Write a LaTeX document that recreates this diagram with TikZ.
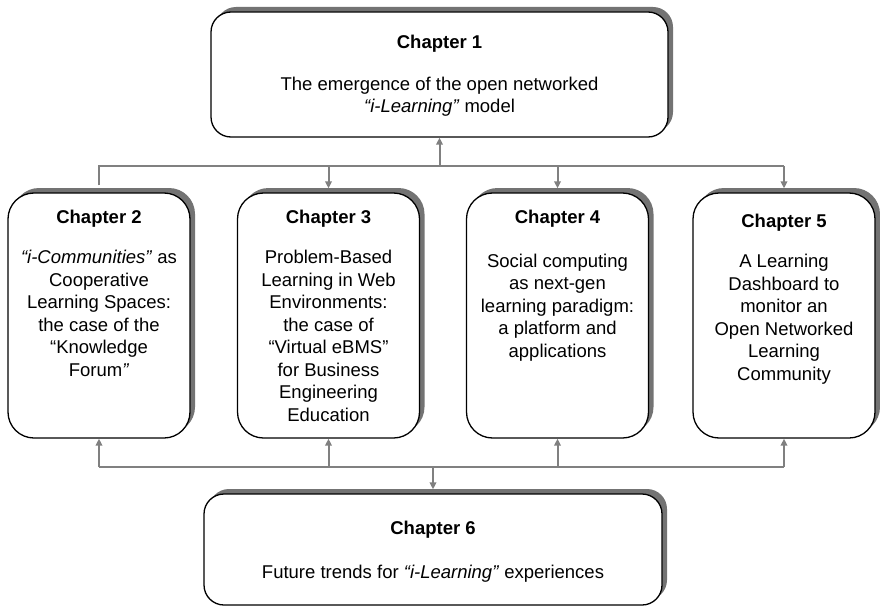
\documentclass[tikz,border=0pt]{standalone}
\usepackage{fontspec}
\setmainfont{Liberation Sans}
\usetikzlibrary{shadows}
\usetikzlibrary{arrows.meta}
\usetikzlibrary{positioning}

\begin{document}
\begin{tikzpicture}[x=1pt, y=-1pt,
    chapbox/.style={draw=black, line width=1.3pt, fill=white, rounded corners=20pt,
        drop shadow={shadow xshift=5pt, shadow yshift=5pt, fill=black!55, opacity=1}},
    tallbox/.style={chapbox, minimum width=182pt, minimum height=245pt, rounded corners=26pt},
    widebox/.style={chapbox, minimum width=457pt, minimum height=125pt},
    chaptext/.style={inner sep=0pt, align=center, font=\fontsize{18.5}{22.5}\selectfont},
    bus/.style={draw=black!50, line width=2pt},
    busarrow/.style={bus, -{Triangle[length=7pt, width=6.5pt]}}]
    \useasboundingbox (0,0) rectangle (880,607);

    \coordinate (bustop) at (0,166);
    \coordinate (busbot) at (0,467);

    % Chapter boxes
    \node[widebox] (ch1) at (439.5,74.5) {};
    \node[tallbox] (ch2) at (99,315.5) {};
    \node[tallbox] (ch3) at (328.5,315.5) {};
    \node[tallbox] (ch4) at (557.5,315.5) {};
    \node[tallbox] (ch5) at (784,315.5) {};
    \node[widebox, minimum width=458pt, minimum height=111pt] (ch6) at (433,549.5) {};

    % Texts
    \node[chaptext, below=24pt of ch1.north] (t1) {\textbf{Chapter 1}\\[19pt]
        The emergence of the open networked\\ \textit{“i-Learning”} model};
    \node[chaptext, below=18pt of ch2.north] (t2) {\textbf{Chapter 2}\\[17.5pt]
        \textit{“i-Communities”} as\\ Cooperative\\ Learning Spaces:\\ the case of the\\
        “Knowledge\\ Forum\textit{”}};
    \node[chaptext, below=18pt of ch3.north] (t3) {\textbf{Chapter 3}\\[17.5pt]
        Problem-Based\\ Learning in Web\\ Environments:\\ the case of\\ “Virtual eBMS”\\
        for Business\\ Engineering\\ Education};
    \node[chaptext, below=17.5pt of ch4.north] (t4) {\textbf{Chapter 4}\\[21.5pt]
        Social computing\\ as next-gen\\ learning paradigm:\\ a platform and\\ applications};
    \node[chaptext, below=22pt of ch5.north] (t5) {\textbf{Chapter 5}\\[17.5pt]
        A Learning\\ Dashboard to\\ monitor an\\ Open Networked\\ Learning\\ Community};
    \node[chaptext, below=27.5pt of ch6.north] (t6) {\textbf{Chapter 6}\\[21.5pt]
        Future trends for \textit{“i-Learning”} experiences};

    % Upper bus
    \draw[bus, shorten <=7pt] (ch2.north) -- (ch2.north |- bustop) -- (ch5.north |- bustop);
    \foreach \c in {ch3, ch4, ch5} {
        \draw[busarrow, shorten >=4pt] (\c.north |- bustop) -- (\c.north);
    }
    \draw[busarrow] (ch1.south |- bustop) -- (ch1.south);

    % Lower bus
    \draw[bus] (ch2.south |- busbot) -- (ch5.south |- busbot);
    \foreach \c in {ch2, ch3, ch4, ch5} {
        \draw[busarrow] (\c.south |- busbot) -- (\c.south);
    }
    \draw[busarrow, shorten >=4pt] (ch6.north |- busbot) -- (ch6.north);
\end{tikzpicture}
\end{document}
